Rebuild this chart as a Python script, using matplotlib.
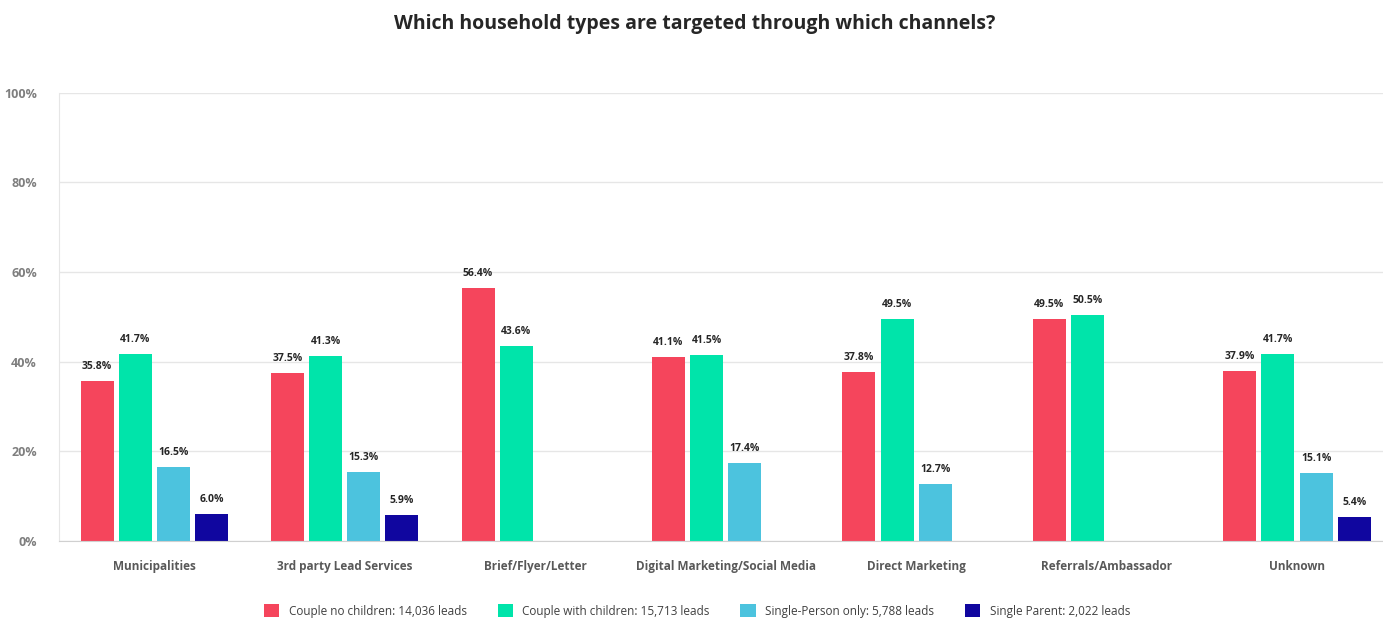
import numpy as np
import matplotlib
matplotlib.use("Agg")
import matplotlib.pyplot as plt

plt.rcParams['font.family'] = ['Open Sans', 'DejaVu Sans']

channels = ["Municipalities", "3rd party Lead Services", "Brief/Flyer/Letter",
            "Digital Marketing/Social Media", "Direct Marketing",
            "Referrals/Ambassador", "Unknown"]
series_names = ["Couple no children: 14,036 leads",
                "Couple with children: 15,713 leads",
                "Single-Person only: 5,788 leads",
                "Single Parent: 2,022 leads"]
couple_no_kids = [35.8, 37.5, 56.4, 41.1, 37.8, 49.5, 37.9]
couple_with_kids = [41.7, 41.3, 43.6, 41.5, 49.5, 50.5, 41.7]
single_person = [16.5, 15.3, 0, 17.4, 12.7, 0, 15.1]
single_parent = [6.0, 5.9, 0, 0, 0, 0, 5.4]
colors = ["#F5455C", "#00E4AA", "#4CC3DE", "#10069F"]

fig = plt.figure(figsize=(13.83, 6.19), dpi=100)
ax = fig.add_axes([0.0427, 0.126, 0.9573, 0.724])

x = np.arange(len(channels))
width = 0.173
offsets = [-0.3, -0.1, 0.1, 0.3]
handles = []
for vals, off, col, name in zip([couple_no_kids, couple_with_kids, single_person, single_parent],
                                offsets, colors, series_names):
    vals = np.array(vals, dtype=float)
    shown = vals > 0
    bars = ax.bar(x[shown] + off, vals[shown], width, color=col, label=name)
    handles.append(bars)
    for rect, v in zip(bars, vals[shown]):
        ax.annotate('{:.1f}%'.format(v),
                    xy=(rect.get_x() + rect.get_width() / 2, v),
                    xytext=(0, 6.5), textcoords="offset points",
                    ha='center', va='bottom', fontsize=7.5,
                    fontweight='bold', color='#262626')

ax.set_ylim(0, 100)
ax.set_xlim(-0.5, (1383 - 154) / 190.5)
ax.set_yticks(np.arange(0, 101, 20))
ax.set_yticklabels(['{}%'.format(v) for v in range(0, 101, 20)],
                   fontsize=9, fontweight='bold', color='#7F7F7F')
ax.set_xticks(x)
ax.set_xticklabels(channels, fontsize=8.5, fontweight='bold', color='#595959')
ax.tick_params(axis='both', length=0)
ax.tick_params(axis='x', pad=14)
ax.tick_params(axis='y', pad=16)
ax.grid(axis='y', color='#E6E6E6', linewidth=1)
ax.set_axisbelow(True)
for side in ['top', 'right']:
    ax.spines[side].set_visible(False)
ax.spines['left'].set_color('#E6E6E6')
ax.spines['bottom'].set_color('#D0D0D0')

fig.text(0.502, 0.962, "Which household types are targeted through which channels?",
         ha='center', va='center', fontsize=14, fontweight='bold', color='#262626')

fig.legend(handles=handles, loc='center', bbox_to_anchor=(0.504, 0.013), ncol=4,
           frameon=False, fontsize=8.5, handlelength=1.3, handleheight=1.3,
           columnspacing=2.6, handletextpad=0.8, labelcolor='#404040')

fig.savefig('out.png', dpi=100)
